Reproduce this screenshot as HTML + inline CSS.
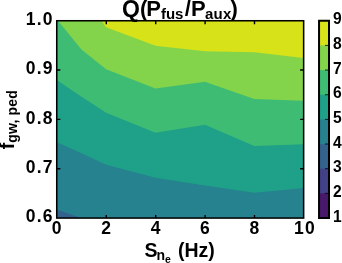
<!DOCTYPE html>
<html>
<head>
<meta charset="utf-8">
<title>Q(Pfus/Paux)</title>
<style>
html,body{margin:0;padding:0;background:#fff;}
body{width:342px;height:263px;overflow:hidden;}
svg{display:block;}
text{font-family:"Liberation Sans","DejaVu Sans",sans-serif;font-weight:bold;fill:#000;}
.tk{font-size:17.5px;letter-spacing:1.2px;}
.ck{font-size:15.6px;}
.lb{font-size:19.5px;}
.sb{font-size:14px;}
.ss{font-size:10.5px;}
.tt{font-size:22px;}
.ts{font-size:15px;}
</style>
</head>
<body>
<svg width="342" height="263" viewBox="0 0 342 263">
<rect x="0" y="0" width="342" height="263" fill="#ffffff"/>
<!-- filled contours -->
<g shape-rendering="geometricPrecision">
<rect x="56.75" y="20.75" width="246.95" height="197.25" fill="#33638d"/>
<polygon fill="#26828e" points="56.75,209.6 81,218 303.7,218 303.7,20.75 56.75,20.75"/>
<polygon fill="#1fa088" points="56.75,142.3 81.45,153.3 106.14,164.8 155.5,177.8 204.9,185.5 254.3,192.8 303.7,187.9 303.7,20.75 56.75,20.75"/>
<polygon fill="#3fbc73" points="56.75,79.9 81.45,96.8 106.14,112.8 155.5,132.8 204.9,124.7 254.3,146 303.7,144.2 303.7,20.75 56.75,20.75"/>
<polygon fill="#84d44b" points="58,20.75 81.45,49.5 106.14,69.3 155.5,88.5 204.9,81.7 254.3,98.9 303.7,100.8 303.7,20.75"/>
<polygon fill="#d8e219" points="101.5,20.75 106.14,27.2 155.5,45.7 204.9,51.3 254.3,52.2 303.7,58 303.7,20.75"/>
</g>
<!-- ticks -->
<g stroke="#000" stroke-width="1.4" fill="none">
<path d="M106.3,218v-3.1M155.7,218v-3.1M205.1,218v-3.1M254.5,218v-3.1"/>
<path d="M106.3,20.75v3.4M155.7,20.75v3.4M205.1,20.75v3.4M254.5,20.75v3.4"/>
<path d="M56.75,70.06h3.6M56.75,119.38h3.6M56.75,168.69h3.6"/>
<path d="M303.7,70.06h-3.6M303.7,119.38h-3.6M303.7,168.69h-3.6"/>
</g>
<!-- axes frame -->
<rect x="56.75" y="20.75" width="246.9" height="197.3" fill="none" stroke="#000" stroke-width="1.55"/>
<!-- colorbar -->
<g>
<rect x="319" y="20.75" width="10" height="25.4" fill="#d8e219"/>
<rect x="319" y="45.41" width="10" height="25.4" fill="#84d44b"/>
<rect x="319" y="70.06" width="10" height="25.4" fill="#3fbc73"/>
<rect x="319" y="94.72" width="10" height="25.4" fill="#1fa088"/>
<rect x="319" y="119.38" width="10" height="25.4" fill="#26828e"/>
<rect x="319" y="144.03" width="10" height="25.4" fill="#33638d"/>
<rect x="319" y="168.69" width="10" height="25.4" fill="#424086"/>
<rect x="319" y="193.34" width="10" height="24.7" fill="#48186a"/>
<path stroke="#000" stroke-width="0.8" fill="none" d="M329,45.41h-4M329,70.06h-4M329,94.72h-4M329,119.38h-4M329,144.03h-4M329,168.69h-4M329,193.34h-4"/>
<rect x="319.05" y="20.75" width="9.95" height="197.25" fill="none" stroke="#000" stroke-width="2"/>
</g>
<!-- y tick labels -->
<g class="tk" text-anchor="end">
<text x="53.7" y="25">1.0</text>
<text x="53.7" y="74.3">0.9</text>
<text x="53.7" y="123.6">0.8</text>
<text x="53.7" y="172.9">0.7</text>
<text x="53.7" y="222.3">0.6</text>
</g>
<!-- x tick labels -->
<g class="tk" text-anchor="middle">
<text x="57.3" y="234.2">0</text>
<text x="106.7" y="234.2">2</text>
<text x="156.1" y="234.2">4</text>
<text x="205.5" y="234.2">6</text>
<text x="254.9" y="234.2">8</text>
<text x="304.9" y="234.2">10</text>
</g>
<!-- colorbar labels -->
<g class="ck" text-anchor="start">
<text x="332.9" y="24.4">9</text>
<text x="332.9" y="49.1">8</text>
<text x="332.9" y="73.8">7</text>
<text x="332.9" y="98.4">6</text>
<text x="332.9" y="123.1">5</text>
<text x="332.9" y="147.7">4</text>
<text x="332.9" y="172.4">3</text>
<text x="332.9" y="197.0">2</text>
<text x="332.9" y="221.7">1</text>
</g>
<!-- title -->
<g class="tt">
<text x="122.1" y="16.6" style="font-size:23px">Q</text>
<text x="140" y="16.4">(</text>
<text x="146.3" y="16.4">P</text>
<text x="160.9" y="19.2" class="ts">fus</text>
<text x="184.8" y="16.4">/</text>
<text x="191" y="16.4">P</text>
<text x="205" y="19.2" class="ts" style="letter-spacing:0.2px">aux</text>
<text x="230.5" y="16.4">)</text>
</g>
<!-- x label -->
<text class="lb" x="144.4" y="257.2">S<tspan class="sb" dx="-1" dy="3.1">n</tspan><tspan class="ss" dy="2.7">e</tspan><tspan dx="1.8" dy="-5.8"> (Hz)</tspan></text>
<!-- y label -->
<text class="lb" transform="translate(14.4,149.3) rotate(-90)" x="0" y="0">f<tspan class="sb" dy="2.8" style="letter-spacing:0.15px">gw, ped</tspan></text>
</svg>
</body>
</html>
